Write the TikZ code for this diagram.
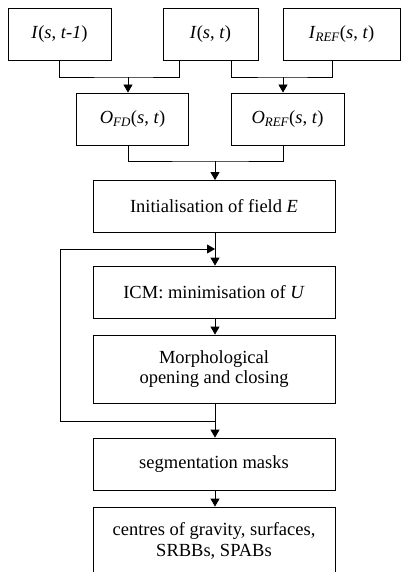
\documentclass[tikz,border=0pt]{standalone}
\usepackage{fontspec}
\setmainfont{Liberation Serif}
\usetikzlibrary{arrows.meta,calc}
\begin{document}
\begin{tikzpicture}[x=1pt,y=-1pt,
  box/.style={draw=black,line width=0.8pt,minimum height=52pt,inner sep=0pt,
    align=center,font=\fontsize{18.5}{20.5}\selectfont},
  link/.style={draw=black,line width=0.8pt},
  arr/.style={link,-{Triangle[width=9pt,length=8pt]}}]
\useasboundingbox (0,0) rectangle (401,572);
\clip (0,0) rectangle (401,572);
% input images
\node[box,minimum width=103pt] (in1) at (59.5,34) {\textit{I}(\textit{s}, \textit{t-1})};
\node[box,minimum width=95pt]  (in2) at (210.5,34) {\textit{I}(\textit{s}, \textit{t})};
\node[box,minimum width=117pt] (in3) at (341.5,34) {\textit{I}\textsubscript{\textit{REF}}(\textit{s}, \textit{t})};
% observations
\node[box,minimum width=112pt] (ofd)  at (132.5,119) {\textit{O}\textsubscript{\textit{FD}}(\textit{s}, \textit{t})};
\node[box,minimum width=113pt] (oref) at (287.5,119) {\textit{O}\textsubscript{\textit{REF}}(\textit{s}, \textit{t})};
% processing chain
\node[box,minimum width=242pt] (init) at (214,206.5) {Initialisation of field \textit{E}};
\node[box,minimum width=242pt] (icm)  at (214,292) {ICM: minimisation of \textit{U}};
\node[box,minimum width=242pt,minimum height=68pt] (morph) at (214,369) {Morphological\\opening and closing};
\node[box,minimum width=242pt] (seg)  at (214,464) {segmentation masks};
\node[box,minimum width=242pt,minimum height=68pt] (cog) at (214,541) {centres of gravity, surfaces,\\SRBBs, SPABs};
% junction points
\coordinate (j1) at (128,77);
\coordinate (j2) at (283,77);
\coordinate (j3) at (215,161);
\coordinate (lt) at (60,249);
\coordinate (lb) at (60,421);
% merging the inputs
\draw[link] (in1.south) |- (j1) -| ([xshift=17pt]in2.south west);
\draw[arr] (j1) -- (j1 |- ofd.north);
\draw[link] ([xshift=-27pt]in2.south east) |- (j2) -| ([xshift=50pt]in3.south west);
\draw[arr] (j2) -- (j2 |- oref.north);
% merging the observations
\draw[link] (ofd.south -| j1) |- (j3) -| (oref.south -| j2);
\draw[arr] (j3) -- (j3 |- init.north);
% iteration loop
\draw[arr] (init.south -| j3) -- (icm.north -| j3);
\draw[arr] (icm.south -| j3) -- (morph.north -| j3);
\draw[arr] (morph.south -| j3) -- (seg.north -| j3);
\draw[link] (lb -| j3) -- (lb) -- (lt);
\draw[arr] (lt) -- (lt -| j3);
\draw[arr] (seg.south -| j3) -- (cog.north -| j3);
\end{tikzpicture}
\end{document}
